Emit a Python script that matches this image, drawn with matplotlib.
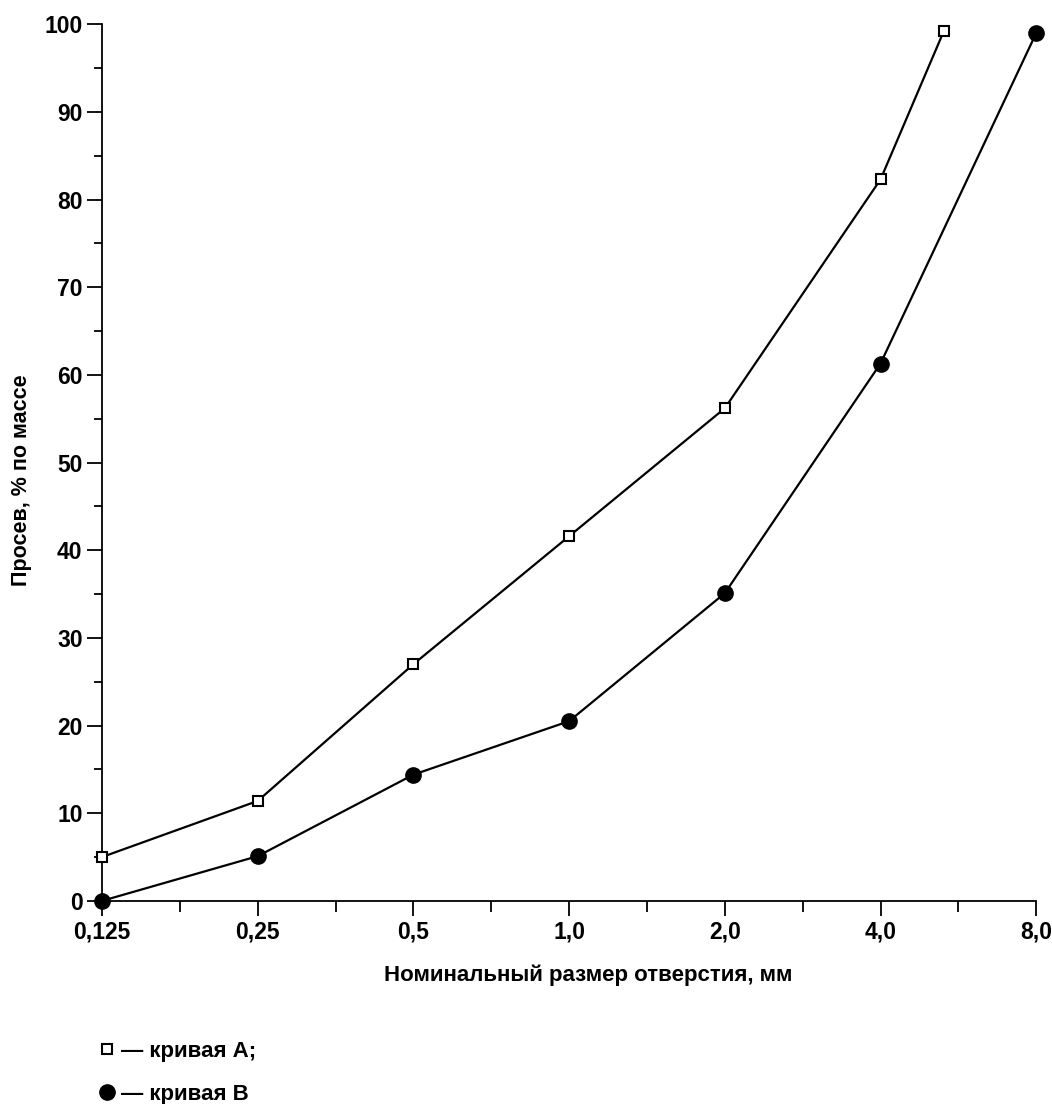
import matplotlib
matplotlib.use("Agg")
import matplotlib.pyplot as plt
from matplotlib.lines import Line2D
from matplotlib.ticker import FixedLocator, NullFormatter

plt.rcParams["font.family"] = ["Liberation Sans", "DejaVu Sans"]
plt.rcParams["font.weight"] = "bold"
plt.rcParams["axes.labelweight"] = "bold"

# sieve sizes, mm
size_a = [0.125, 0.25, 0.5, 1.0, 2.0, 4.0, 5.3]
pass_a = [5.0, 11.4, 27.0, 41.6, 56.2, 82.3, 99.2]
size_b = [0.125, 0.25, 0.5, 1.0, 2.0, 4.0, 8.0]
pass_b = [0.0, 5.1, 14.4, 20.5, 35.1, 61.3, 99.0]

xticks = [0.125, 0.25, 0.5, 1.0, 2.0, 4.0, 8.0]
xtick_labels = ["0,125", "0,25", "0,5", "1,0", "2,0", "4,0", "8,0"]
xminor = [0.177, 0.354, 0.707, 1.414, 2.828, 5.657]

fig = plt.figure(figsize=(10.52, 11.04), dpi=100)
ax = fig.add_axes([0.097, 0.184, 0.888, 0.794])

ax.plot(size_a, pass_a, color="black", lw=1.6, marker="s", ms=6.5,
        mfc="white", mec="black", mew=1.5, clip_on=False, zorder=3)
ax.plot(size_b, pass_b, color="black", lw=1.6, marker="o", ms=11,
        mfc="black", mec="black", clip_on=False, zorder=3)

ax.set_xscale("log", base=2)
ax.set_xlim(0.125, 8.0)
ax.set_ylim(0, 100)
ax.xaxis.set_major_locator(FixedLocator(xticks))
ax.set_xticklabels(xtick_labels)
ax.xaxis.set_minor_locator(FixedLocator(xminor))
ax.xaxis.set_minor_formatter(NullFormatter())
ax.set_yticks(range(0, 101, 10))
ax.set_yticks(range(5, 100, 10), minor=True)

for s in ["top", "right"]:
    ax.spines[s].set_visible(False)
for s in ["left", "bottom"]:
    ax.spines[s].set_linewidth(1.3)

ax.tick_params(axis="both", which="major", labelsize=16.5, length=11, width=1.3,
               direction="out", pad=3)
ax.tick_params(axis="x", which="minor", length=8, width=1.3, direction="out")
ax.tick_params(axis="y", which="minor", length=6, width=1.3, direction="out")

ax.set_xlabel("Номинальный размер отверстия, мм", fontsize=16, fontweight="bold")
ax.set_ylabel("Просев, % по массе", fontsize=15.5, fontweight="bold")
ax.xaxis.set_label_coords(0.52, -0.073)
ax.yaxis.set_label_coords(-0.0747, 0.48)

handles = [
    Line2D([0], [0], ls="none", marker="s", ms=6.5, mfc="white",
           mec="black", mew=1.5),
    Line2D([0], [0], ls="none", marker="o", ms=11, mfc="black", mec="black"),
]
fig.legend(handles, ["— кривая А;", "— кривая В"], loc="upper left",
           bbox_to_anchor=(0.072, 0.0755), frameon=False, fontsize=16,
           handlelength=1.0, handletextpad=0.15, labelspacing=1.0)

fig.savefig("out.png", dpi=100)
